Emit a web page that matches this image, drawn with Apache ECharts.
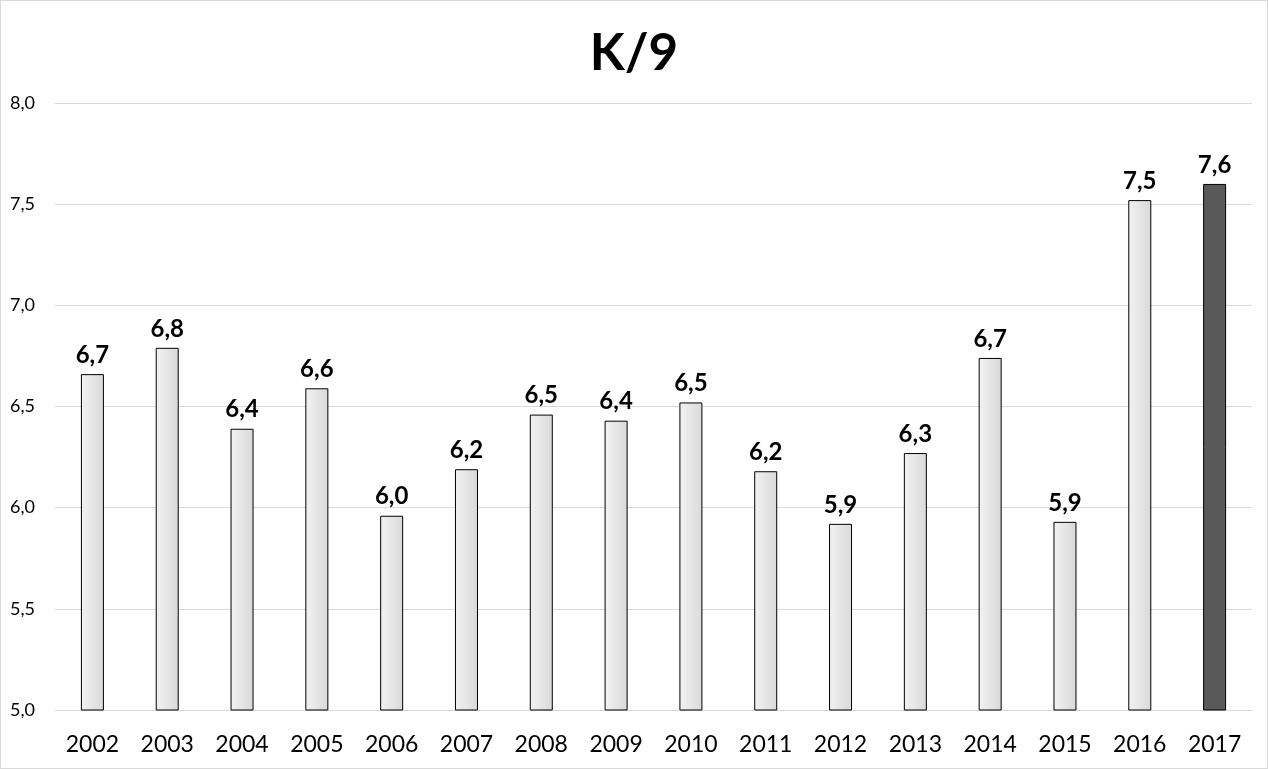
<!DOCTYPE html>
<html>
<head>
<meta charset="utf-8">
<script src="https://cdn.jsdelivr.net/npm/echarts@6/dist/echarts.min.js"></script>
<style>
html,body{margin:0;padding:0;background:#fff;}
#c{width:1268px;height:769px;box-sizing:border-box;border:1px solid #d9d9d9;}
</style>
</head>
<body>
<div id="c"></div>
<script>
const categories = ['2002','2003','2004','2005','2006','2007','2008','2009','2010','2011','2012','2013','2014','2015','2016','2017'];
const values = [6.66, 6.79, 6.39, 6.59, 5.96, 6.19, 6.46, 6.43, 6.52, 6.18, 5.92, 6.27, 6.74, 5.93, 7.52, 7.60];
const highlightIndex = 15;
const yTicks = [5.0, 5.5, 6.0, 6.5, 7.0, 7.5, 8.0];

const fmt = v => v.toFixed(1).replace('.', ',');
const lightGrad = new echarts.graphic.LinearGradient(0, 0, 1, 0, [
  {offset: 0, color: '#f2f2f2'}, {offset: 1, color: '#d9d9d9'}
]);

const chart = echarts.init(document.getElementById('c'), null, {renderer: 'canvas'});
chart.setOption({
  animation: false,
  backgroundColor: '#fff',
  textStyle: {fontFamily: 'Lato, "Open Sans", sans-serif'},
  title: {
    text: 'K/9', left: 'center', top: 22,
    textStyle: {fontSize: 51, fontWeight: 'bold', color: '#000', fontFamily: 'Lato, "Open Sans", sans-serif'}
  },
  grid: {left: 54, right: 15, top: 102, bottom: 58, containLabel: false},
  xAxis: {
    type: 'category', data: categories,
    axisLine: {show: true, lineStyle: {color: '#d9d9d9', width: 1}},
    axisTick: {show: false},
    axisLabel: {fontSize: 23, color: '#000', margin: 23}
  },
  yAxis: {
    type: 'value', min: yTicks[0], max: yTicks[yTicks.length - 1], interval: 0.5,
    axisLine: {show: false}, axisTick: {show: false},
    splitLine: {lineStyle: {color: '#d9d9d9', width: 1}},
    axisLabel: {fontSize: 18, color: '#000', margin: 20, formatter: v => fmt(v)}
  },
  series: [{
    type: 'bar', barWidth: 23,
    data: values.map((v, i) => ({
      value: v,
      itemStyle: {color: i === highlightIndex ? '#595959' : lightGrad, borderColor: '#000', borderWidth: 1}
    })),
    label: {
      show: true, position: 'top', distance: 7,
      fontSize: 24, fontWeight: 'bold', color: '#000',
      formatter: p => fmt(p.value)
    }
  }]
});
</script>
</body>
</html>
